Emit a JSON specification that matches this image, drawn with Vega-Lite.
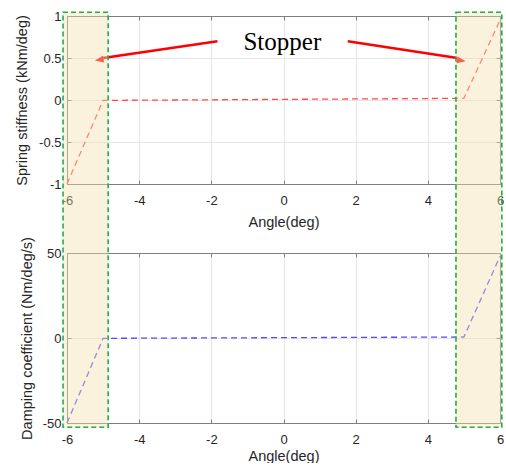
{
  "$schema": "https://vega.github.io/schema/vega-lite/v6.json",
  "background": "white",
  "padding": {"left": 14, "top": 9, "right": 0, "bottom": 0},
  "spacing": 69,
  "bounds": "flush",
  "datasets": {
    "spring": [
      {"angle": -6, "stiffness": -1},
      {"angle": -5, "stiffness": -0.005},
      {"angle": 5, "stiffness": 0.02},
      {"angle": 6, "stiffness": 0.95}
    ],
    "damping": [
      {"angle": -6, "coefficient": -50},
      {"angle": -5, "coefficient": -0.2},
      {"angle": 5, "coefficient": 0.6},
      {"angle": 6, "coefficient": 48}
    ],
    "stopperTop": [
      {"start": -6.11, "end": -4.86, "upper": 1.044, "lower": -1.821},
      {"start": 4.78, "end": 6.05, "upper": 1.044, "lower": -1.821}
    ],
    "stopperBottom": [
      {"start": -6.11, "end": -4.86, "upper": 50, "lower": -52.5, "boxTop": 191.6},
      {"start": 4.78, "end": 6.05, "upper": 50, "lower": -52.5, "boxTop": 191.6}
    ],
    "label": [{"angle": -1.11, "value": 0.592, "text": "Stopper"}],
    "arrows": [
      {"side": "left", "x": -1.83, "y": 0.7, "xEnd": -5.0, "yEnd": 0.5, "xTip": -5.23, "yTip": 0.47},
      {"side": "right", "x": 1.78, "y": 0.7, "xEnd": 4.82, "yEnd": 0.5, "xTip": 5.05, "yTip": 0.46}
    ]
  },
  "config": {
    "font": "Liberation Sans",
    "view": {"stroke": "#808080", "strokeWidth": 1},
    "axis": {
      "labelFont": "Liberation Sans",
      "labelFontSize": 13,
      "labelColor": "#262626",
      "labelFlush": false,
      "titleFont": "Liberation Sans",
      "titleFontSize": 14.5,
      "titleFontWeight": "normal",
      "titleColor": "#262626",
      "domain": false,
      "tickColor": "#808080",
      "tickSize": -4,
      "labelPadding": 14
    }
  },
  "vconcat": [
    {
      "width": 433,
      "height": 168,
      "resolve": {"axis": {"x": "independent", "y": "independent"}},
      "layer": [
        {
          "data": {"name": "spring"},
          "mark": {"type": "line", "color": "#ff4d4d", "strokeWidth": 1.3, "strokeDash": [6, 4]},
          "encoding": {
            "x": {"field": "angle", "type": "quantitative", "scale": {"domain": [-6, 6], "nice": false, "zero": false},
                  "axis": {"values": [-6, -4, -2, 0, 2, 4, 6], "title": "Angle(deg)", "titlePadding": 8, "labelFlush": false, "labelExpr": "toString(datum.value)",
                           "gridColor": {"condition": {"test": "datum.value === -6 || datum.value === 6", "value": "#808080"}, "value": "#e6e6e6"}}},
            "y": {"field": "stiffness", "type": "quantitative", "scale": {"domain": [-1, 1], "nice": false, "zero": false},
                  "axis": {"values": [-1, -0.5, 0, 0.5, 1], "title": "Spring stiffness (kNm/deg)", "titlePadding": 9, "labelPadding": 10, "labelAlign": "right", "labelBaseline": "middle", "labelFlush": false, "labelExpr": "toString(datum.value)",
                           "gridColor": {"condition": {"test": "datum.value === -1 || datum.value === 1", "value": "#808080"}, "value": "#e6e6e6"}}}
          }
        },
        {
          "data": {"name": "label"},
          "mark": {"type": "text", "font": "Liberation Serif", "fontSize": 25, "align": "left", "baseline": "alphabetic", "color": "#000000"},
          "encoding": {
            "x": {"field": "angle", "type": "quantitative",
                  "axis": {"orient": "top", "values": [-6, -4, -2, 0, 2, 4, 6], "labels": false, "grid": false, "title": null}},
            "y": {"field": "value", "type": "quantitative",
                  "axis": {"orient": "right", "values": [-1, -0.5, 0, 0.5, 1], "labels": false, "grid": false, "title": null}},
            "text": {"field": "text"}
          }
        },
        {
          "data": {"name": "arrows"},
          "mark": {"type": "rule", "color": "#ff0000", "strokeWidth": 2.5},
          "encoding": {
            "x": {"field": "x", "type": "quantitative", "axis": null},
            "y": {"field": "y", "type": "quantitative", "axis": null},
            "x2": {"field": "xEnd"},
            "y2": {"field": "yEnd"}
          }
        },
        {
          "data": {"name": "arrows"},
          "transform": [{"filter": "datum.side === 'left'"}],
          "mark": {"type": "point", "shape": "M0,0L0.42,1.1L-0.42,1.1Z", "filled": true, "color": "#ff0000", "opacity": 1, "size": 260, "angle": 261},
          "encoding": {
            "x": {"field": "xTip", "type": "quantitative", "axis": null},
            "y": {"field": "yTip", "type": "quantitative", "axis": null}
          }
        },
        {
          "data": {"name": "arrows"},
          "transform": [{"filter": "datum.side === 'right'"}],
          "mark": {"type": "point", "shape": "M0,0L0.42,1.1L-0.42,1.1Z", "filled": true, "color": "#ff0000", "opacity": 1, "size": 260, "angle": 99.6},
          "encoding": {
            "x": {"field": "xTip", "type": "quantitative", "axis": null},
            "y": {"field": "yTip", "type": "quantitative", "axis": null}
          }
        },
        {
          "data": {"name": "stopperTop"},
          "mark": {"type": "rect", "color": "#f5dfae", "opacity": 0.42},
          "encoding": {
            "x": {"field": "start", "type": "quantitative", "axis": null},
            "x2": {"field": "end"},
            "y": {"field": "upper", "type": "quantitative", "axis": null},
            "y2": {"field": "lower"}
          }
        }
      ]
    },
    {
      "width": 433,
      "height": 170,
      "resolve": {"axis": {"x": "independent", "y": "independent"}},
      "layer": [
        {
          "data": {"name": "damping"},
          "mark": {"type": "line", "color": "#4d4dff", "strokeWidth": 1.3, "strokeDash": [6, 4]},
          "encoding": {
            "x": {"field": "angle", "type": "quantitative", "scale": {"domain": [-6, 6], "nice": false, "zero": false},
                  "axis": {"values": [-6, -4, -2, 0, 2, 4, 6], "title": "Angle(deg)", "titlePadding": 3, "labelFlush": false, "labelExpr": "toString(datum.value)",
                           "gridColor": {"condition": {"test": "datum.value === -6 || datum.value === 6", "value": "#808080"}, "value": "#e6e6e6"}}},
            "y": {"field": "coefficient", "type": "quantitative", "scale": {"domain": [-50, 50], "nice": false, "zero": false},
                  "axis": {"values": [-50, 0, 50], "title": "Damping coefficient (Nm/deg/s)", "titlePadding": 8, "labelPadding": 10, "labelAlign": "right", "labelBaseline": "middle", "labelFlush": false, "labelExpr": "toString(datum.value)",
                           "gridColor": {"condition": {"test": "datum.value === -50 || datum.value === 50", "value": "#808080"}, "value": "#e6e6e6"}}}
          }
        },
        {
          "data": {"name": "stopperBottom"},
          "mark": {"type": "rect", "color": "#f5dfae", "opacity": 0.42},
          "encoding": {
            "x": {"field": "start", "type": "quantitative",
                  "axis": {"orient": "top", "values": [-6, -4, -2, 0, 2, 4, 6], "labels": false, "grid": false, "title": null}},
            "x2": {"field": "end"},
            "y": {"field": "upper", "type": "quantitative",
                  "axis": {"orient": "right", "values": [-50, 0, 50], "labels": false, "grid": false, "title": null}},
            "y2": {"field": "lower"}
          }
        },
        {
          "data": {"name": "stopperBottom"},
          "mark": {"type": "rect", "filled": false, "fill": null, "stroke": "#1fb04a", "strokeWidth": 1.6, "strokeDash": [5, 3]},
          "encoding": {
            "x": {"field": "start", "type": "quantitative", "axis": null},
            "x2": {"field": "end"},
            "y": {"field": "boxTop", "type": "quantitative", "axis": null},
            "y2": {"field": "lower"}
          }
        }
      ]
    }
  ]
}
